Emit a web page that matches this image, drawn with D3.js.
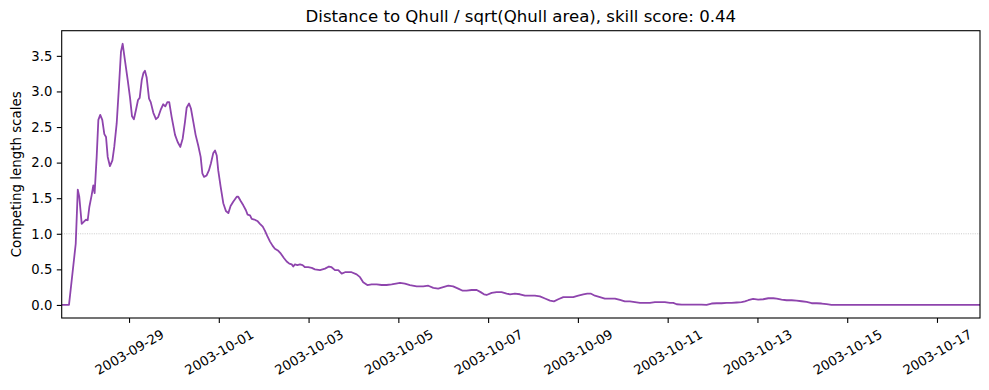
<!DOCTYPE html>
<html>
<head>
<meta charset="utf-8">
<script src="https://cdn.jsdelivr.net/npm/d3@7"></script>
<style>
  html, body { margin: 0; padding: 0; background: #fff; }
  svg { display: block; font-family: "DejaVu Sans", sans-serif; }
</style>
</head>
<body>
<svg id="chart" width="989" height="390"></svg>
<script>
// ---- data ----
const titleText = "Distance to Qhull / sqrt(Qhull area), skill score: 0.44";
const yLabelText = "Competing length scales";
const startTime = "2003-09-27T12:00:00";
const endTime = "2003-10-17T23:00:00";
const referenceLevel = 1.0;

// hours since startTime
const hours = [
  0, 3.9, 7.5, 8.6, 9.4, 10.7, 11.9, 13.0, 13.9, 14.8, 16.0, 16.9, 17.6, 18.7, 19.6,
  20.6, 21.7, 22.8, 23.7, 24.6, 25.8, 27.1, 28.1, 29.4, 30.6, 31.7, 32.6, 33.8, 35.3,
  36.5, 37.6, 38.6, 39.7, 40.8, 41.7, 42.8, 43.7, 44.5, 45.4, 46.7, 47.6, 49.0, 50.4,
  51.6, 52.9, 54.3, 55.4, 56.5, 57.5, 58.8, 60.6, 62.0, 63.4, 64.7, 65.9, 66.8, 68.1,
  69.1, 70.4, 71.6, 73.0, 74.3, 75.2, 76.1, 77.5, 78.7, 79.8, 81.0, 82.0, 82.9, 83.7,
  85.0, 86.4, 87.8, 89.1, 90.3, 91.7, 93.6, 94.4, 95.7, 97.1, 98.5, 99.4, 100.7, 101.6,
  103.0, 104.6, 106.0, 107.5, 108.7, 109.9, 111.4, 112.8, 114.0, 115.8, 117.2, 118.8,
  120.3, 121.7, 123.0, 123.8, 124.7, 126.0, 127.4, 128.8, 130.1, 131.8, 133.7, 135.4,
  138.1, 140.8, 142.9, 144.3, 146.1, 147.9, 149.7, 151.5, 153.2, 155.0, 157.7, 159.5,
  161.2, 163.4, 165.7, 168.4, 171.1, 173.7, 176.4, 178.7, 180.9, 183.5, 186.2, 189.8,
  193.3, 196.0, 198.7, 201.3, 204.0, 206.7, 209.3, 212.0, 214.4, 216.5, 219.2, 221.9,
  224.0, 225.8, 227.2, 229.9, 232.5, 235.2, 237.9, 239.7, 242.3, 245.0, 247.7, 250.4,
  253.0, 255.7, 258.4, 261.1, 263.2, 265.5, 268.2, 270.8, 273.5, 276.2, 278.9, 281.0,
  282.8, 285.1, 287.8, 290.4, 293.1, 295.8, 298.5, 301.1, 303.8, 306.5, 309.2, 311.8,
  314.5, 317.2, 319.9, 322.5, 325.2, 327.0, 328.8, 331.5, 334.1, 336.8, 339.5, 342.1,
  344.8, 347.5, 350.2, 352.8, 355.5, 358.2, 360.9, 363.5, 365.3, 367.1, 369.7, 372.4,
  375.1, 377.8, 380.5, 382.3, 384.9, 387.6, 390.3, 392.9, 395.6, 398.3, 401.0, 403.6,
  406.3, 409.0, 411.6, 491
];
const values = [
  0, 0, 0.86, 1.62, 1.52, 1.14, 1.17, 1.20, 1.19, 1.38, 1.54, 1.68, 1.57, 2.08, 2.60,
  2.67, 2.60, 2.40, 2.36, 2.08, 1.95, 2.03, 2.22, 2.55, 3.06, 3.56, 3.67, 3.44, 3.16,
  2.92, 2.65, 2.61, 2.74, 2.88, 2.91, 3.16, 3.26, 3.29, 3.20, 2.90, 2.85, 2.70, 2.61,
  2.64, 2.74, 2.82, 2.79, 2.85, 2.85, 2.64, 2.39, 2.29, 2.22, 2.34, 2.57, 2.77, 2.83,
  2.76, 2.57, 2.39, 2.24, 2.08, 1.85, 1.80, 1.82, 1.89, 1.99, 2.13, 2.17, 2.10, 1.89,
  1.66, 1.43, 1.32, 1.29, 1.39, 1.45, 1.52, 1.52, 1.46, 1.40, 1.33, 1.27, 1.26, 1.21,
  1.20, 1.18, 1.14, 1.10, 1.04, 0.97, 0.89, 0.83, 0.79, 0.76, 0.72, 0.66,
  0.61, 0.58, 0.57, 0.54, 0.57, 0.56, 0.57, 0.56, 0.53, 0.53, 0.52, 0.50,
  0.49, 0.51, 0.54, 0.53, 0.49, 0.49, 0.44, 0.46, 0.46, 0.46, 0.43, 0.39,
  0.32, 0.28, 0.29, 0.29, 0.28, 0.28, 0.29, 0.30, 0.31, 0.30, 0.28, 0.26,
  0.26, 0.27, 0.24, 0.23, 0.25, 0.27, 0.26, 0.23, 0.20, 0.20, 0.21, 0.21,
  0.18, 0.15, 0.14, 0.17, 0.18, 0.18, 0.16, 0.15, 0.16, 0.15, 0.13, 0.13,
  0.13, 0.12, 0.09, 0.06, 0.05, 0.08, 0.11, 0.11, 0.11, 0.13, 0.15, 0.16,
  0.16, 0.13, 0.11, 0.09, 0.09, 0.09, 0.07, 0.05, 0.05, 0.04, 0.03, 0.03,
  0.03, 0.04, 0.04, 0.04, 0.03, 0.03, 0.01, 0.005, 0.005, 0.005, 0.005, 0.005,
  0, 0.02, 0.024, 0.024, 0.028, 0.028, 0.034, 0.04, 0.05, 0.066, 0.084, 0.076,
  0.08, 0.094, 0.094, 0.09, 0.076, 0.066, 0.066, 0.062, 0.052, 0.042, 0.024, 0.024,
  0.02, 0.01, 0, 0
];
const yTicks = [0, 0.5, 1.0, 1.5, 2.0, 2.5, 3.0, 3.5];
const xTickDates = ["2003-09-29", "2003-10-01", "2003-10-03", "2003-10-05", "2003-10-07",
  "2003-10-09", "2003-10-11", "2003-10-13", "2003-10-15", "2003-10-17"];

// ---- layout ----
const W = 989, H = 390;
const m = { left: 61.7, right: 980, top: 30.7, bottom: 318 };
const lineColor = "#8e44ad";
const tickFont = 13.2;

const svg = d3.select("#chart");
const parse = d3.isoParse;
const t0 = parse(startTime);
const data = hours.map((h, i) => ({ t: new Date(t0.getTime() + h * 3600e3), v: values[i] }));

const yMax = d3.max(values), yMin = d3.min(values);
const pad = (yMax - yMin) * 0.05;

const x = d3.scaleTime().domain([t0, parse(endTime)]).range([m.left, m.right]);
const y = d3.scaleLinear().domain([yMin - pad, yMax + pad]).range([m.bottom, m.top]);

// reference line
svg.append("line")
  .attr("x1", m.left).attr("x2", m.right)
  .attr("y1", y(referenceLevel)).attr("y2", y(referenceLevel))
  .attr("stroke", "#b0b0b0").attr("stroke-width", 0.8)
  .attr("stroke-dasharray", "1,1.3").attr("opacity", 0.8);

// clip
svg.append("clipPath").attr("id", "clip").append("rect")
  .attr("x", m.left).attr("y", m.top).attr("width", m.right - m.left).attr("height", m.bottom - m.top);

svg.append("path")
  .datum(data)
  .attr("clip-path", "url(#clip)")
  .attr("fill", "none")
  .attr("stroke", lineColor)
  .attr("stroke-width", 1.8)
  .attr("stroke-linejoin", "round")
  .attr("d", d3.line().x(d => x(d.t)).y(d => y(d.v)));

// y axis
const yAxis = d3.axisLeft(y).tickValues(yTicks).tickFormat(d3.format(".1f")).tickSize(4.9).tickPadding(4.5);
const gy = svg.append("g").attr("transform", `translate(${m.left},0)`).call(yAxis);
gy.select(".domain").remove();
gy.selectAll("line").attr("stroke", "#000").attr("stroke-width", 1.1);
gy.selectAll("text").attr("font-size", tickFont + "px").attr("fill", "#000").attr("font-family", "DejaVu Sans");

// x axis
const xTicks = xTickDates.map(s => parse(s + "T00:00:00"));
const xAxis = d3.axisBottom(x).tickValues(xTicks).tickFormat(d3.timeFormat("%Y-%m-%d")).tickSize(4.9).tickPadding(0);
const gx = svg.append("g").attr("transform", `translate(0,${m.bottom})`).call(xAxis);
gx.select(".domain").remove();
gx.selectAll("line").attr("stroke", "#000").attr("stroke-width", 1.1);
gx.selectAll("text")
  .attr("font-size", tickFont + "px").attr("fill", "#000").attr("font-family", "DejaVu Sans")
  .attr("dy", null).attr("y", null)
  .attr("text-anchor", "middle").attr("dominant-baseline", "central")
  .each(function () {
    const w = this.getComputedTextLength();
    const h = tickFont * 0.93;
    const bh = w * Math.sin(Math.PI / 6) + h * Math.cos(Math.PI / 6);
    const cy = 4.9 + 4.9 + bh / 2;
    d3.select(this).attr("transform", `translate(0,${cy}) rotate(-30)`);
  });

// frame
svg.append("rect")
  .attr("x", m.left).attr("y", m.top).attr("width", m.right - m.left).attr("height", m.bottom - m.top)
  .attr("fill", "none").attr("stroke", "#000").attr("stroke-width", 1.1);

// title
svg.append("text")
  .attr("x", (m.left + m.right) / 2).attr("y", m.top - 8.5)
  .attr("text-anchor", "middle").attr("font-size", "16.6px").attr("fill", "#000")
  .text(titleText);

// y label
svg.append("text")
  .attr("transform", `translate(${21},${(m.top + m.bottom) / 2}) rotate(-90)`)
  .attr("text-anchor", "middle").attr("font-size", "13.4px").attr("fill", "#000")
  .text(yLabelText);
</script>
</body>
</html>
